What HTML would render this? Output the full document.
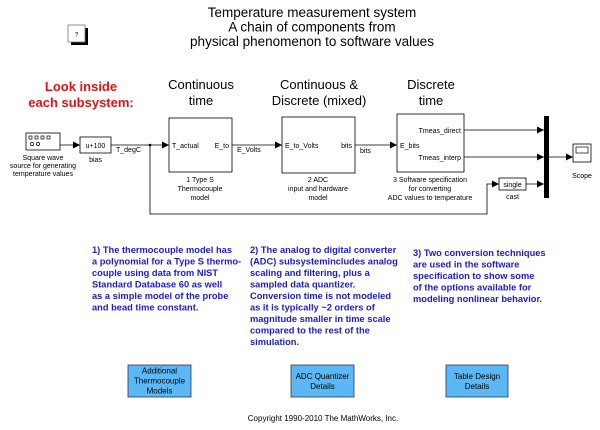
<!DOCTYPE html>
<html><head><meta charset="utf-8"><style>
html,body{margin:0;padding:0;background:#fff;}
svg{display:block;font-family:"Liberation Sans",Arial,sans-serif;}
.s{font-size:7px;fill:#000;}
.h{font-size:13px;fill:#000;}
.b{font-size:9.3px;font-weight:bold;fill:#1a1ad8;}
.bt{font-size:8px;fill:#000;}
</style></head><body>
<svg width="600" height="430" viewBox="0 0 600 430" xmlns="http://www.w3.org/2000/svg">
<defs><marker id="a" markerWidth="8" markerHeight="8" refX="7" refY="4" orient="auto" markerUnits="userSpaceOnUse"><path d="M0,0.5 L7,4 L0,7.5z" fill="#000"/></marker></defs>
<g text-anchor="middle" font-size="13.5">
<text x="312" y="17">Temperature measurement system</text>
<text x="312" y="31.5">A chain of components from</text>
<text x="312" y="46">physical phenomenon to software values</text>
</g>
<rect x="71" y="28" width="17" height="17" fill="#000"/>
<rect x="68" y="25" width="17" height="17" fill="#fff" stroke="#777" stroke-width="0.8"/>
<text x="76.5" y="36.5" font-size="6" text-anchor="middle">?</text>
<g text-anchor="middle" class="h">
<text x="81" y="91" font-weight="bold" style="fill:#e81010">Look inside</text>
<text x="81" y="107" style="fill:#e81010" font-weight="bold">each subsystem:</text>
<text x="201" y="89">Continuous</text><text x="201" y="105">time</text>
<text x="319" y="89">Continuous &amp;</text><text x="319" y="105">Discrete (mixed)</text>
<text x="431" y="89">Discrete</text><text x="431" y="105">time</text>
</g>
<rect x="26" y="133" width="34" height="17" fill="#fff" stroke="#000" stroke-width="0.8"/>
<g fill="none" stroke="#000" stroke-width="0.7">
<rect x="29" y="136" width="3" height="3"/><rect x="35" y="136" width="3" height="3"/><rect x="41" y="136" width="3" height="3"/><rect x="47" y="136" width="3" height="3"/>
<circle cx="32" cy="144" r="1.6"/><circle cx="38" cy="144" r="1.6"/></g>
<g text-anchor="middle" class="s"><text x="43" y="160">Square wave</text><text x="43" y="168">source for generating</text><text x="43" y="176">temperature values</text></g>
<rect x="80" y="137" width="31" height="16" fill="#fff" stroke="#000" stroke-width="0.8"/>
<text x="95.5" y="148" class="s" text-anchor="middle">u+100</text>
<text x="95.5" y="162" class="s" text-anchor="middle">bias</text>
<rect x="169" y="118" width="63" height="54" fill="#fff" stroke="#000" stroke-width="0.8"/>
<text x="172" y="148" class="s">T_actual</text><text x="229" y="148" class="s" text-anchor="end">E_to</text>
<g text-anchor="middle" class="s"><text x="200" y="182">1 Type S</text><text x="200" y="191">Thermocouple</text><text x="200" y="200">model</text></g>
<rect x="282" y="117" width="73" height="56" fill="#fff" stroke="#000" stroke-width="0.8"/>
<text x="285" y="148" class="s">E_to_Volts</text><text x="352" y="148" class="s" text-anchor="end">bits</text>
<g text-anchor="middle" class="s"><text x="318" y="182">2 ADC</text><text x="318" y="191">input and hardware</text><text x="318" y="200">model</text></g>
<rect x="397" y="114" width="67" height="58" fill="#fff" stroke="#000" stroke-width="0.8"/>
<text x="400" y="148" class="s">E_bits</text>
<text x="461" y="133" class="s" text-anchor="end">Tmeas_direct</text>
<text x="461" y="160" class="s" text-anchor="end">Tmeas_interp</text>
<g text-anchor="middle" class="s"><text x="430" y="182">3 Software specification</text><text x="430" y="191">for converting</text><text x="430" y="200">ADC values to temperature</text></g>
<rect x="544" y="116" width="5" height="82" fill="#000"/>
<rect x="499" y="178" width="27" height="12" fill="#fff" stroke="#000" stroke-width="0.8"/>
<text x="512.5" y="187" class="s" text-anchor="middle">single</text>
<text x="512.5" y="199" class="s" text-anchor="middle">cast</text>
<rect x="573" y="144" width="18" height="18" fill="#fff" stroke="#000" stroke-width="0.8"/>
<rect x="576" y="147" width="12" height="6" fill="none" stroke="#000" stroke-width="0.7"/>
<text x="582" y="178" class="s" text-anchor="middle">Scope</text>
<g stroke="#000" stroke-width="0.8" fill="none">
<line x1="60" y1="145" x2="80" y2="145" marker-end="url(#a)"/>
<line x1="111" y1="145" x2="169" y2="145" marker-end="url(#a)"/>
<line x1="232" y1="145" x2="282" y2="145" marker-end="url(#a)"/>
<line x1="355" y1="145" x2="397" y2="145" marker-end="url(#a)"/>
<line x1="464" y1="130" x2="544" y2="130" marker-end="url(#a)"/>
<line x1="464" y1="157" x2="544" y2="157" marker-end="url(#a)"/>
<line x1="526" y1="184" x2="544" y2="184" marker-end="url(#a)"/>
<line x1="549" y1="157" x2="573" y2="157" marker-end="url(#a)"/>
<polyline points="150,145 150,214 487,214 487,184 499,184" marker-end="url(#a)"/>
</g>
<circle cx="150" cy="145" r="1.3" fill="#000"/>
<g class="s"><text x="116" y="152">T_degC</text><text x="237" y="152">E_Volts</text><text x="360" y="153">bits</text></g>
<g class="b">
<text x="92" y="253">1) The thermocouple model has</text>
<text x="92" y="264.5">a polynomial for a Type S thermo-</text>
<text x="92" y="276">couple using data from NIST</text>
<text x="92" y="287.5">Standard Database 60 as well</text>
<text x="92" y="299">as a simple model of the probe</text>
<text x="92" y="310.5">and bead time constant.</text>
<text x="250" y="253">2) The analog to digital converter</text>
<text x="250" y="264.5">(ADC) subsystemincludes analog</text>
<text x="250" y="276">scaling and filtering, plus a</text>
<text x="250" y="287.5">sampled data quantizer.</text>
<text x="250" y="299">Conversion time is not modeled</text>
<text x="250" y="310.5">as it is typically ~2 orders of</text>
<text x="250" y="322">magnitude smaller in time scale</text>
<text x="250" y="333.5">compared to the rest of the</text>
<text x="250" y="345">simulation.</text>
<text x="413" y="256">3) Two conversion techniques</text>
<text x="413" y="267.5">are used  in the software</text>
<text x="413" y="279">specification to show some</text>
<text x="413" y="290.5">of the options available for</text>
<text x="413" y="302">modeling nonlinear behavior.</text>
</g>
<g fill="#5cb8f4" stroke="#335" stroke-width="0.8">
<rect x="128" y="365" width="63" height="32"/><rect x="291" y="365" width="63" height="32"/><rect x="446" y="365" width="62" height="32"/></g>
<g class="bt" text-anchor="middle">
<text x="159.5" y="373.5">Additional</text><text x="159.5" y="383.5">Thermocouple</text><text x="159.5" y="393.5">Models</text>
<text x="322.5" y="379">ADC Quantizer</text><text x="322.5" y="389">Details</text>
<text x="477" y="379">Table Design</text><text x="477" y="389">Details</text>
<text x="323" y="421">Copyright 1990-2010 The MathWorks, Inc.</text>
</g>
</svg>
</body></html>
